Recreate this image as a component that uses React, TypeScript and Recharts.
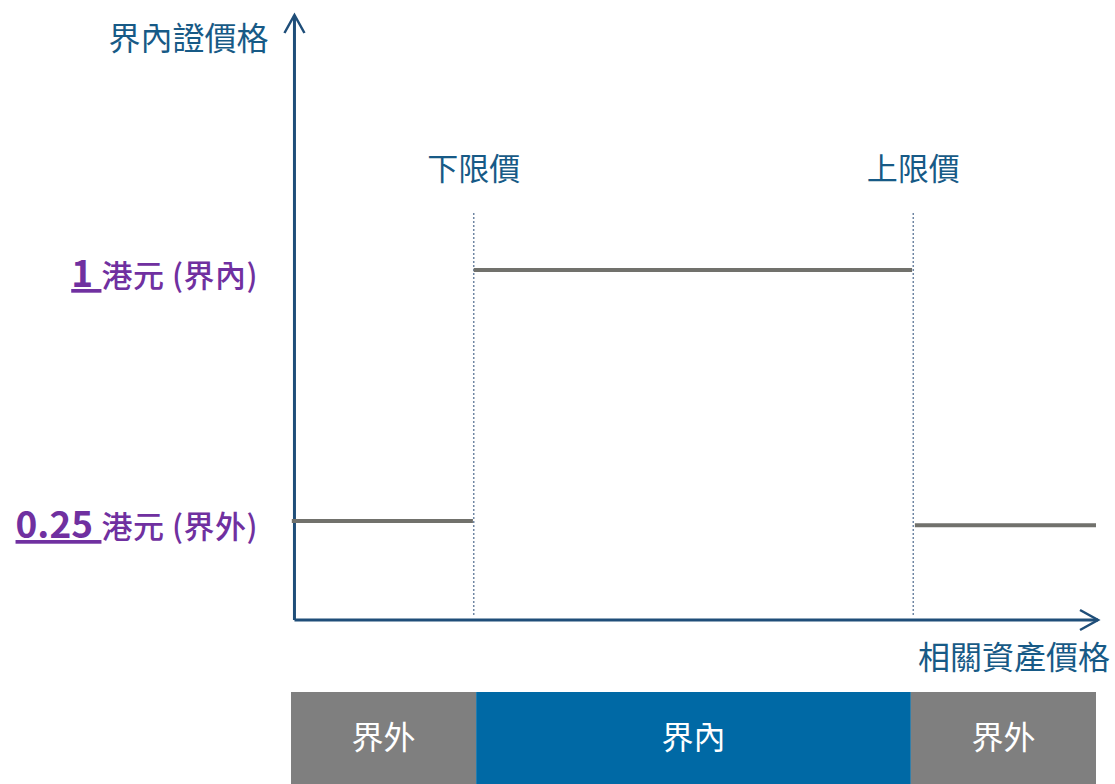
import React from "react";
import {
  ComposedChart,
  Line,
  XAxis,
  YAxis,
  ReferenceLine,
  ReferenceArea,
} from "recharts";

const FONT = '"Noto Sans CJK TC", "Noto Sans", sans-serif';

const COLORS = {
  axis: "#1f4e79",
  title: "#175a86",
  payoff: "#71716c",
  barrier: "#6f86a3",
  tick: "#7030a0",
  outside: "#7f7f7f",
  inside: "#0069a5",
};

// price axis runs 0..100, payoff axis in HKD
const lowerBarrier = 22.7;
const upperBarrier = 77.3;
const barrierLabels = ["下限價", "上限價"];

const belowRange = [
  { price: 0.1, payoff: 0.25 },
  { price: 22.6, payoff: 0.25 },
];
const insideRange = [
  { price: 22.7, payoff: 1 },
  { price: 77.15, payoff: 1 },
];
const aboveRange = [
  { price: 77.5, payoff: 0.237 },
  { price: 100, payoff: 0.237 },
];

const payoffTicks = [0.25, 1];
const payoffTickUnits = ["港元 (界外)", "港元 (界內)"];

const zoneEdges = [0, 23, 77, 100];
const zoneLabels = ["界外", "界內", "界外"];
const zoneColors = [COLORS.outside, COLORS.inside, COLORS.outside];

// schematic layout: the drawn axes sit a little below zero
const Y_DOMAIN = [-0.5358, 1.8068];
const AXIS_Y = -0.0458;
const AXIS_TOP = 1.762;
const AXIS_X = 0.43;
const ZONE_TOP = -0.261;

function ArrowAxis(props: any) {
  const { x1, y1, x2, y2, title, tx, ty } = props;
  const len = Math.hypot(x2 - x1, y2 - y1) || 1;
  const ux = (x2 - x1) / len;
  const uy = (y2 - y1) / len;
  const back = 18;
  const side = 10;
  const bx = x2 - ux * back;
  const by = y2 - uy * back;
  const a1 = `${bx - uy * side},${by + ux * side}`;
  const a2 = `${bx + uy * side},${by - ux * side}`;
  return (
    <g>
      <line x1={x1} y1={y1} x2={x2} y2={y2} stroke={COLORS.axis} strokeWidth={3} />
      <polyline
        points={`${a1} ${x2},${y2} ${a2}`}
        fill="none"
        stroke={COLORS.axis}
        strokeWidth={2.5}
      />
      <text
        x={x2 + tx}
        y={y2 + ty}
        textAnchor="end"
        fill={COLORS.title}
        fontSize={32}
        fontFamily={FONT}
      >
        {title}
      </text>
    </g>
  );
}

function PayoffTick({ x, y, payload }: any) {
  const unit = payoffTickUnits[payoffTicks.indexOf(payload.value)];
  return (
    <text
      x={x - 33}
      y={y + 17}
      textAnchor="end"
      fill={COLORS.tick}
      fontFamily={FONT}
      style={{ whiteSpace: "pre" }}
    >
      <tspan
        fontSize={37}
        fontWeight={700}
        style={{ textDecoration: "underline", whiteSpace: "pre" }}
      >
        {`${payload.value} `}
      </tspan>
      <tspan fontSize={31} fontWeight={500} letterSpacing={0.5}>
        {unit}
      </tspan>
    </text>
  );
}

export default function App() {
  const barriers = [lowerBarrier, upperBarrier];

  return (
    <div
      style={{
        position: "absolute",
        left: 0,
        top: 0,
        width: 1115,
        height: 784,
        background: "#fff",
      }}
    >
      <ComposedChart
        width={1115}
        height={784}
        margin={{ top: 0, right: 19, bottom: 0, left: 290 }}
      >
        <XAxis
          type="number"
          dataKey="price"
          domain={[0, 100]}
          allowDataOverflow
          hide
        />
        <YAxis
          type="number"
          domain={Y_DOMAIN}
          allowDataOverflow
          width={1}
          ticks={payoffTicks}
          axisLine={false}
          tickLine={false}
          tickSize={0}
          tickMargin={0}
          tick={<PayoffTick />}
          interval={0}
        />

        {/* bottom zone bar */}
        {zoneLabels.map((name, i) => (
          <ReferenceArea
            key={i}
            x1={zoneEdges[i]}
            x2={zoneEdges[i + 1]}
            y1={Y_DOMAIN[0]}
            y2={ZONE_TOP}
            fill={zoneColors[i]}
            fillOpacity={1}
            stroke="none"
            label={{
              value: name,
              position: "center",
              fill: "#ffffff",
              fontSize: 32,
              fontFamily: FONT,
            }}
          />
        ))}

        {/* barriers */}
        {barriers.map((b, i) => (
          <ReferenceLine
            key={i}
            segment={[
              { x: b, y: -0.031 },
              { x: b, y: 1.171 },
            ]}
            stroke={COLORS.barrier}
            strokeWidth={1.5}
            strokeDasharray="2 2"
            ifOverflow="visible"
            label={{
              value: barrierLabels[i],
              position: "top",
              offset: 33,
              fill: COLORS.title,
              fontSize: 31,
              fontFamily: FONT,
            }}
          />
        ))}

        {/* axes with arrows */}
        <ReferenceLine
          segment={[
            { x: AXIS_X, y: AXIS_Y },
            { x: AXIS_X, y: AXIS_TOP },
          ]}
          ifOverflow="visible"
          shape={(p: any) => (
            <ArrowAxis {...p} title="界內證價格" tx={-26} ty={35} />
          )}
        />
        <ReferenceLine
          segment={[
            { x: AXIS_X, y: AXIS_Y },
            { x: 100.25, y: AXIS_Y },
          ]}
          ifOverflow="visible"
          shape={(p: any) => (
            <ArrowAxis {...p} title="相關資產價格" tx={12} ty={49} />
          )}
        />

        <Line
          data={belowRange}
          dataKey="payoff"
          type="linear"
          stroke={COLORS.payoff}
          strokeWidth={4}
          dot={false}
          isAnimationActive={false}
        />
        <Line
          data={insideRange}
          dataKey="payoff"
          type="linear"
          stroke={COLORS.payoff}
          strokeWidth={4}
          dot={false}
          isAnimationActive={false}
        />
        <Line
          data={aboveRange}
          dataKey="payoff"
          type="linear"
          stroke={COLORS.payoff}
          strokeWidth={4}
          dot={false}
          isAnimationActive={false}
        />
      </ComposedChart>
    </div>
  );
}
